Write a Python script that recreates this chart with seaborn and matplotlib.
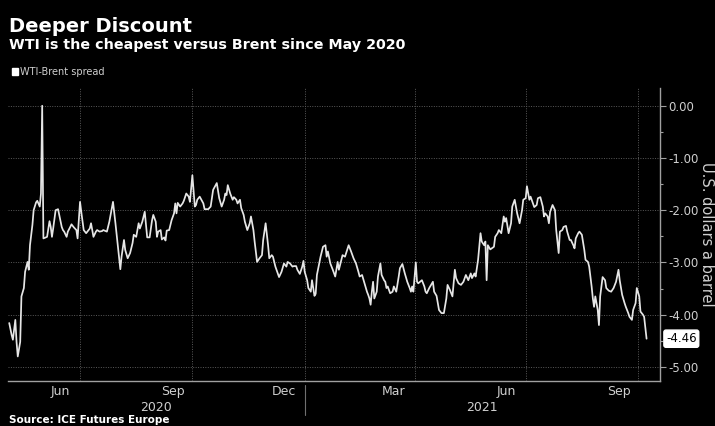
import numpy as np
import pandas as pd
import matplotlib
matplotlib.use("Agg")
import matplotlib.pyplot as plt
import matplotlib.dates as mdates
import matplotlib.transforms as mtransforms
from matplotlib.patches import Patch
import seaborn as sns

# ---------------- data ----------------
start_date = "2020-05-01"
day_offsets = [
    3, 5, 6, 8, 9, 10, 12, 13, 15, 16, 18, 19, 20, 22, 23, 25, 26, 28, 29, 30,
    31, 34, 36, 37, 38, 39, 41, 43, 44, 46, 47, 48, 50, 51, 53, 54, 56, 58, 59, 61,
    62, 64, 66, 68, 69, 70, 72, 74, 75, 77, 79, 80, 83, 85, 88, 90, 92, 94, 95, 97,
    98, 100, 102, 104, 105, 107, 109, 110, 112, 114, 115, 116, 118, 120, 121, 123, 124, 125, 127, 128,
    130, 131, 132, 134, 136, 138, 139, 140, 141, 143, 145, 146, 148, 150, 151,
    153, 155, 156, 157, 159, 162, 163, 166, 168, 170, 173, 175, 177, 179, 180, 181, 182, 184, 186, 187,
    189, 190, 192, 193, 195, 196, 198, 200, 201, 203, 204, 206, 208, 210, 211, 213, 215, 216, 218, 219,
    221, 223, 224, 226, 228, 230, 231, 233, 235, 236, 238, 239, 241, 243, 244,
    245, 247, 248, 250, 251, 253, 254, 255, 258, 260, 262, 263, 264, 266, 268, 270, 272, 273, 275, 276,
    278, 281, 283, 285, 287, 289, 290, 292, 294, 296, 297, 298, 299, 300, 301, 302, 304, 305, 307, 308,
    310, 311, 312, 313, 315, 317, 318, 320, 322, 323, 325, 327, 329, 331, 332, 333, 334,
    336, 337, 338, 341, 343, 344, 345, 347, 350, 351, 353, 355, 357, 359, 361, 362, 364, 366, 368, 369,
    371, 373, 375, 377, 379, 381, 382, 384, 385, 387, 389, 390, 392, 393, 394, 395, 397, 400, 401, 403,
    404, 406, 408, 409, 410, 412, 414, 415, 417, 419, 421, 423, 424, 426,
    427, 429, 430, 432, 433, 435, 436, 438, 440, 441, 442, 444, 445, 446, 448, 450, 451, 453, 454, 456,
    457, 459, 460, 462, 463, 465, 466, 467, 469, 470, 472, 474, 475, 477, 478, 480, 481, 482, 483, 485,
    486, 487, 489, 491, 492, 494, 496, 498, 500, 502, 503, 505, 507, 508, 510, 511, 513, 514, 516, 517,
    519, 520, 522, 523, 525,
]
spread = [
    -4.16, -4.39, -4.48, -4.10, -4.52, -4.80, -4.52, -3.65, -3.49, -3.18, -2.99, -3.14, -2.67, -2.28, -2.00, -1.85, -1.82, -1.93, -1.68, 0.00,
    -2.54, -2.51, -2.21, -2.32, -2.51, -2.35, -2.00, -1.98, -2.09, -2.32, -2.38, -2.41, -2.51, -2.41, -2.32, -2.27, -2.33, -2.38, -2.54, -1.84,
    -2.03, -2.38, -2.44, -2.38, -2.35, -2.25, -2.51, -2.41, -2.38, -2.41, -2.40, -2.38, -2.41, -2.22, -1.84, -2.25, -2.70, -3.13, -2.89, -2.57,
    -2.76, -2.92, -2.82, -2.63, -2.47, -2.51, -2.25, -2.35, -2.22, -2.03, -2.28, -2.52, -2.52, -2.19, -2.09, -2.22, -2.51, -2.41, -2.38, -2.56,
    -2.52, -2.58, -2.39, -2.38, -2.19, -2.06, -1.87, -2.06, -1.86, -1.93, -1.87, -1.82, -1.68, -1.74, -1.84,
    -1.33, -1.93, -1.90, -1.80, -1.74, -1.87, -1.98, -1.98, -1.93, -1.61, -1.48, -1.77, -1.93, -1.80, -1.68, -1.71, -1.52, -1.68, -1.80, -1.75,
    -1.80, -1.87, -1.80, -1.96, -2.09, -2.22, -2.38, -2.25, -2.12, -2.38, -2.60, -2.99, -2.92, -2.86, -2.57, -2.25, -2.67, -2.92, -2.86, -2.89,
    -3.08, -3.21, -3.28, -3.18, -3.02, -3.08, -2.99, -3.02, -3.08, -3.07, -3.07, -3.14, -3.22, -3.08, -2.97,
    -3.18, -3.34, -3.49, -3.56, -3.34, -3.64, -3.60, -3.24, -2.89, -2.70, -2.67, -2.89, -2.79, -3.02, -3.14, -3.27, -2.99, -3.14, -2.95, -2.86,
    -2.89, -2.67, -2.79, -2.92, -3.02, -3.18, -3.27, -3.24, -3.40, -3.56, -3.62, -3.69, -3.81, -3.56, -3.37, -3.69, -3.56, -3.27, -3.02, -3.24,
    -3.34, -3.37, -3.49, -3.46, -3.59, -3.56, -3.46, -3.56, -3.27, -3.11, -3.03, -3.21, -3.37, -3.49, -3.56, -3.46, -3.56,
    -3.00, -3.37, -3.40, -3.34, -3.46, -3.56, -3.59, -3.49, -3.37, -3.56, -3.64, -3.91, -3.97, -3.97, -3.69, -3.43, -3.53, -3.65, -3.14, -3.30,
    -3.40, -3.43, -3.37, -3.24, -3.34, -3.21, -3.30, -3.21, -3.27, -2.95, -2.44, -2.60, -2.67, -2.60, -3.34, -2.67, -2.75, -2.70, -2.51, -2.44,
    -2.38, -2.44, -2.12, -2.22, -2.15, -2.44, -2.25, -1.93, -1.80, -2.06, -2.25, -2.00, -1.80, -1.77,
    -1.54, -1.80, -1.74, -1.87, -1.94, -1.90, -1.77, -1.75, -1.93, -2.12, -2.06, -2.12, -2.25, -2.03, -1.90, -2.00, -2.38, -2.82, -2.41, -2.38,
    -2.32, -2.30, -2.41, -2.57, -2.57, -2.67, -2.73, -2.54, -2.44, -2.41, -2.47, -2.76, -2.95, -2.99, -3.08, -3.46, -3.69, -3.85, -3.65, -3.91,
    -4.20, -3.65, -3.28, -3.34, -3.49, -3.54, -3.56, -3.49, -3.37, -3.14, -3.34, -3.62, -3.78, -3.85, -3.97, -4.04, -4.10, -3.91, -3.78, -3.49,
    -3.65, -3.94, -4.00, -4.04, -4.46,
]
y_ticks = [0, -1, -2, -3, -4, -5]
y_tick_labels = ["0.00", "-1.00", "-2.00", "-3.00", "-4.00", "-5.00"]
month_labels = ["Jun", "Sep", "Dec", "Mar", "Jun", "Sep"]
month_label_dates = ["2020-06-15", "2020-09-15", "2020-12-15", "2021-03-15", "2021-06-15", "2021-09-15"]
year_labels = ["2020", "2021"]
year_break = "2021-01-01"
x_range = ["2020-05-03", "2021-10-19"]
series_name = "WTI-Brent spread"
title = "Deeper Discount"
subtitle = "WTI is the cheapest versus Brent since May 2020"
y_title = "U.S. dollars a barrel"
source = "Source: ICE Futures Europe"

# ---------------- style ----------------
sns.set_theme(style="dark", rc={
    "axes.facecolor": "black", "figure.facecolor": "black",
    "savefig.facecolor": "black",
})
plt.rcParams["font.family"] = ["DejaVu Sans"]

fg = "#e6e6e6"
tick_col = "#cfcfcf"
grid_col = "#5a5a5a"
spine_col = "#a0a0a0"

dates = pd.Timestamp(start_date) + pd.to_timedelta(day_offsets, unit="D")
df = pd.DataFrame({"date": dates, "spread": spread})

W, H = 715, 426
fig = plt.figure(figsize=(W / 100, H / 100), dpi=100)
ax = fig.add_axes([8 / W, 45 / H, 652 / W, 293 / H])
ax.set_facecolor("black")

sns.lineplot(data=df, x="date", y="spread", ax=ax, color=fg, linewidth=1.25,
             legend=False)

# y axis on the right
ax.yaxis.tick_right()
ax.set_yticks(y_ticks)
ax.set_yticklabels(y_tick_labels)
ax.set_yticks(np.arange(-5.0, 0.01, 0.5), minor=True)
ax.tick_params(axis="y", which="major", direction="out", length=4, width=0.8,
               colors=spine_col, labelcolor=tick_col, labelsize=8.5, pad=2)
ax.tick_params(axis="y", which="minor", direction="out", length=2.5, width=0.8,
               colors=spine_col)
ax.set_ylabel("")

x0, x1 = pd.Timestamp(x_range[0]), pd.Timestamp(x_range[1])
ax.set_xlim(x0, x1)
ax.set_ylim(-5.27, 0.34)

ax.text(1.0 + 47 / 652, 0.5, y_title, transform=ax.transAxes, rotation=270,
        ha="center", va="center", color=tick_col, fontsize=10.5)

# x axis
ax.xaxis.set_major_locator(mdates.MonthLocator(bymonth=[1, 4, 7, 10]))
ax.xaxis.set_minor_locator(mdates.MonthLocator())
ax.xaxis.set_major_formatter(plt.NullFormatter())
ax.tick_params(axis="x", which="major", direction="in", length=5, width=0.8,
               colors=spine_col)
ax.tick_params(axis="x", which="minor", direction="in", length=3, width=0.8,
               colors=spine_col)
ax.set_xlabel("")

trans = mtransforms.blended_transform_factory(ax.transData, ax.transAxes)
for lab, d in zip(month_labels, month_label_dates):
    ax.text(pd.Timestamp(d), -0.035, lab, transform=trans, ha="center",
            va="center", color=tick_col, fontsize=9)
yb = pd.Timestamp(year_break)
year_centers = [x0 + (yb - x0) / 2, yb + (x1 - yb) / 2]
for lab, c in zip(year_labels, year_centers):
    ax.text(c, -0.09, lab, transform=trans, ha="center", va="center",
            color=tick_col, fontsize=9)
ax.plot([yb, yb], [-0.015, -0.115], transform=trans, color="#707070",
        lw=0.8, clip_on=False)

# grid
ax.grid(True, which="major", axis="both", color=grid_col,
        linestyle=(0, (1, 1.5)), linewidth=0.7)
ax.set_axisbelow(True)

for s in ["left", "top"]:
    ax.spines[s].set_visible(False)
for s in ["right", "bottom"]:
    ax.spines[s].set_visible(True)
    ax.spines[s].set_color(spine_col)
    ax.spines[s].set_linewidth(1.0)

# last value tag
last = spread[-1]
ax.text(1.0 + 6 / 652, last, f"{last:.2f}",
        transform=mtransforms.blended_transform_factory(ax.transAxes, ax.transData),
        ha="left", va="center", fontsize=8.5, color="black",
        bbox=dict(boxstyle="round,pad=0.18", fc="white", ec="white"))

# legend
handles = [Patch(facecolor="white", edgecolor="white", label=series_name)]
fig.legend(handles=handles, loc="center left",
           bbox_to_anchor=(12 / W, 1 - 72 / H), frameon=False, fontsize=7,
           labelcolor=tick_col, handlelength=0.6, handleheight=0.6,
           handletextpad=0.2, borderaxespad=0, borderpad=0)

# titles
fig.text(9 / W, 1 - 32 / H, title, ha="left", va="baseline", color="white",
         fontsize=14, fontweight="bold")
fig.text(9 / W, 1 - 49.5 / H, subtitle, ha="left", va="baseline", color="white",
         fontsize=10.3, fontweight="bold")
fig.text(9 / W, 1 - 423 / H, source, ha="left", va="baseline", color="white",
         fontsize=7.5, fontweight="bold")

fig.savefig("out.png", dpi=100, facecolor="black")
